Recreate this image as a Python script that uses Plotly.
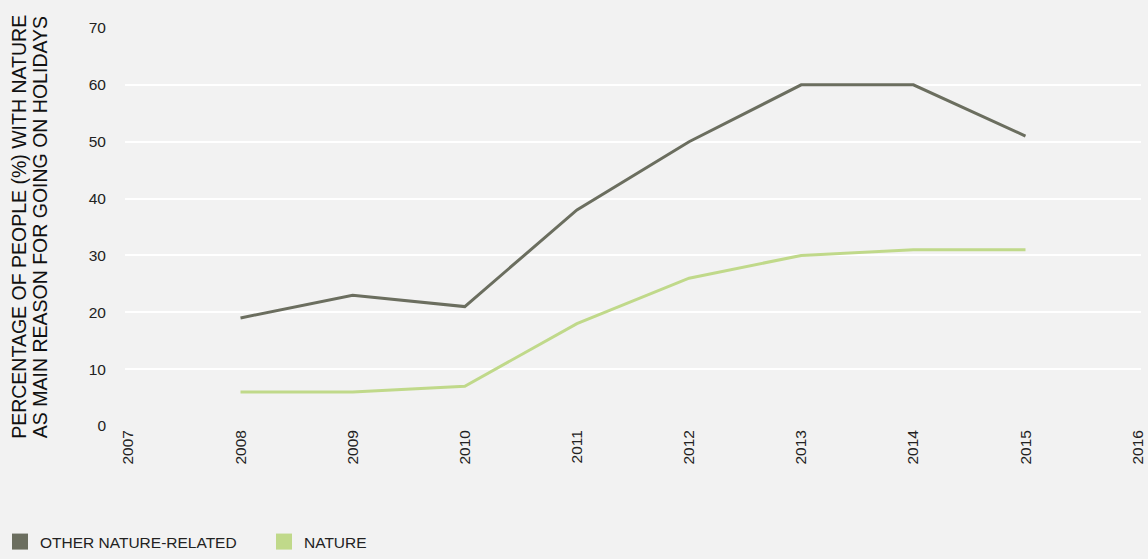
import plotly.graph_objects as go

years = [2008, 2009, 2010, 2011, 2012, 2013, 2014, 2015]
other_nature_related = [19, 23, 21, 38, 50, 60, 60, 51]
nature = [6, 6, 7, 18, 26, 30, 31, 31]
x_ticks = list(range(2007, 2017))
y_ticks = [0, 10, 20, 30, 40, 50, 60, 70]

c_other = "#6b6e5f"
c_nature = "#c0d98a"

fig = go.Figure()
fig.add_trace(go.Scatter(x=years, y=other_nature_related, mode="lines",
                         line=dict(color=c_other, width=3), showlegend=False,
                         name="OTHER NATURE-RELATED"))
fig.add_trace(go.Scatter(x=years, y=nature, mode="lines",
                         line=dict(color=c_nature, width=3), showlegend=False,
                         name="NATURE"))
# legend swatches
fig.add_trace(go.Scatter(x=[None], y=[None], mode="markers", name="OTHER NATURE-RELATED",
                         marker=dict(symbol="square", size=16, color=c_other)))
fig.add_trace(go.Scatter(x=[None], y=[None], mode="markers", name="NATURE",
                         marker=dict(symbol="square", size=16, color=c_nature)))

fig.update_layout(
    width=1148, height=559,
    paper_bgcolor="#f2f2f2", plot_bgcolor="#f2f2f2",
    margin=dict(l=125, r=2, t=28, b=133),
    font=dict(family="Liberation Sans, Arial, sans-serif", color="#222222", size=15),
    legend=dict(orientation="h", xref="container", yref="container",
                x=0.0, y=-0.024, xanchor="left", yanchor="bottom",
                font=dict(size=15.5, color="#222222"), itemwidth=30,
                entrywidth=219, entrywidthmode="pixels",
                bgcolor="rgba(0,0,0,0)"),
    xaxis=dict(range=[2006.97, 2016.03], tickvals=x_ticks, ticktext=[str(v) for v in x_ticks],
               tickangle=-90, showgrid=False, zeroline=False, showline=False,
               ticklabeloverflow="allow",
               tickfont=dict(size=15.5, color="#222222")),
    yaxis=dict(range=[0, 70], tickvals=y_ticks, showgrid=True, gridcolor="#ffffff",
               gridwidth=2, zeroline=False, showline=False,
               ticklabelstandoff=18,
               tickfont=dict(size=15.5, color="#222222")),
    annotations=[
        dict(text="PERCENTAGE OF PEOPLE (%) WITH NATURE", xref="paper", yref="paper",
             x=-0.1045, y=0.5, xanchor="center", yanchor="middle", textangle=-90,
             showarrow=False, font=dict(size=19.5, color="#111111")),
        dict(text="AS MAIN REASON FOR GOING ON HOLIDAYS", xref="paper", yref="paper",
             x=-0.0835, y=0.5, xanchor="center", yanchor="middle", textangle=-90,
             showarrow=False, font=dict(size=19.5, color="#111111")),
    ],
)

fig.write_html("out.html", config={"displayModeBar": False},
               post_script="document.body.style.margin='0';document.body.style.padding='0';")
